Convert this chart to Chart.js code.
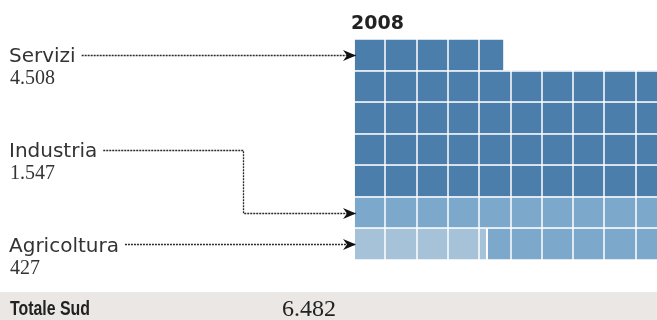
<!DOCTYPE html>
<html lang="it">
<head>
<meta charset="utf-8">
<title>Occupati Sud 2008</title>
<script src="https://cdn.jsdelivr.net/npm/chart.js@4/dist/chart.umd.min.js"></script>
<style>
  html, body { margin: 0; padding: 0; overflow: hidden; background: #fff; }
  #wrap { width: 657px; height: 320px; overflow: hidden; }
  canvas { display: block; }
</style>
</head>
<body>
<div id="wrap"><canvas id="waffle" width="680" height="320"></canvas></div>
<script>
// sectors, bottom-up fill order is the reverse of this list
const sectors = ["Servizi", "Industria", "Agricoltura"];
const sectorValues = [4508, 1547, 427];
const sectorColors = ["#4c7eab", "#7ba8cb", "#a5c2d9"];
const year = "2008";
const totalLabel = "Totale Sud";

// each square is 100, each row 1000
const rowUnits = 1000;
const rowNames = ["r1", "r2", "r3", "r4", "r5", "r6", "r7"];

function fmt(n) {
  return String(n).replace(/\B(?=(\d{3})+(?!\d))/g, ".");
}

// fill rows from the bottom, left to right, one sector after the other
function fillRows(values) {
  const out = values.map(() => rowNames.map(() => 0));
  let row = rowNames.length - 1;
  let used = 0;
  values.forEach((v, i) => {
    let rest = v;
    while (rest > 0 && row >= 0) {
      const take = Math.min(rest, rowUnits - used);
      out[i][row] += take;
      rest -= take;
      used += take;
      if (used >= rowUnits) {
        row--;
        used = 0;
      }
    }
  });
  return out;
}

const order = [2, 1, 0]; // Agricoltura, Industria, Servizi
const rows = fillRows(order.map((i) => sectorValues[i]));
const total = sectorValues.reduce((a, b) => a + b, 0);

const datasets = order.map((i, k) => ({
  label: sectors[i],
  data: rows[k],
  backgroundColor: sectorColors[i],
  borderColor: "rgba(255,255,255,0.85)",
  borderWidth: { top: 0, bottom: 0, left: 0, right: 2 },
  borderSkipped: false,
  categoryPercentage: 1,
  barPercentage: 1
}));

function arrow(ctx, x, y) {
  ctx.beginPath();
  ctx.moveTo(x, y);
  ctx.lineTo(x - 13, y - 5.5);
  ctx.lineTo(x - 9, y);
  ctx.lineTo(x - 13, y + 5.5);
  ctx.closePath();
  ctx.fill();
}

function leader(ctx, pts) {
  ctx.save();
  ctx.strokeStyle = "#2a2a2a";
  ctx.lineWidth = 1.3;
  ctx.setLineDash([2, 1]);
  ctx.beginPath();
  ctx.moveTo(pts[0][0], pts[0][1]);
  pts.slice(1).forEach((p) => ctx.lineTo(p[0], p[1]));
  ctx.stroke();
  ctx.restore();
  const end = pts[pts.length - 1];
  ctx.fillStyle = "#111";
  arrow(ctx, end[0], end[1]);
}

const labelsPlugin = {
  id: "labels",
  beforeDraw(chart) {
    const ctx = chart.ctx;
    ctx.save();
    ctx.fillStyle = "#ebe7e4";
    ctx.fillRect(0, 292, 680, 28);
    ctx.restore();
  },
  afterDraw(chart) {
    const ctx = chart.ctx;
    const y = chart.scales.y;
    const left = chart.chartArea.left + 2;
    const rowY = (i) => Math.round(y.getPixelForValue(i)) + 0.5;
    ctx.save();

    ctx.fillStyle = "#222";
    ctx.font = "bold 19px 'DejaVu Sans'";
    ctx.textBaseline = "alphabetic";
    ctx.fillText(year, 351, 29);

    const names = [
      { i: 0, y: 62 },
      { i: 1, y: 157 },
      { i: 2, y: 252 }
    ];
    names.forEach((n) => {
      ctx.fillStyle = "#333";
      ctx.font = "20px 'DejaVu Sans'";
      ctx.fillText(sectors[n.i], 9, n.y);
      ctx.font = "20px 'Liberation Serif'";
      ctx.fillText(fmt(sectorValues[n.i]), 10, n.y + 22);
    });

    // leaders to the first row of each sector
    ctx.font = "20px 'DejaVu Sans'";
    const w = sectors.map((s) => ctx.measureText(s).width);
    leader(ctx, [[9 + w[0] + 6, rowY(0)], [left, rowY(0)]]);
    leader(ctx, [[9 + w[1] + 6, 150.5], [243.5, 150.5], [243.5, rowY(5)], [left, rowY(5)]]);
    leader(ctx, [[9 + w[2] + 6, rowY(6)], [left, rowY(6)]]);

    ctx.fillStyle = "#222";
    ctx.font = "bold 20px 'Liberation Sans'";
    ctx.fillText(totalLabel, 10, 315, 80);
    ctx.font = "24px 'Liberation Serif'";
    ctx.fillText(fmt(total), 282, 316);
    ctx.restore();
  }
};

new Chart(document.getElementById("waffle"), {
  type: "bar",
  data: { labels: rowNames, datasets },
  plugins: [labelsPlugin],
  options: {
    indexAxis: "y",
    responsive: false,
    animation: false,
    layout: { padding: { left: 354, right: 13, top: 39, bottom: 60 } },
    plugins: { legend: { display: false }, tooltip: { enabled: false } },
    scales: {
      x: {
        stacked: true,
        min: 0,
        max: rowUnits,
        ticks: { display: false, stepSize: 100 },
        grid: { color: "rgba(255,255,255,0.75)", lineWidth: 2, z: 1, drawTicks: false },
        border: { display: false }
      },
      y: {
        stacked: true,
        ticks: { display: false },
        grid: { color: "rgba(255,255,255,0.75)", lineWidth: 2, z: 1, drawTicks: false },
        border: { display: false }
      }
    }
  }
});
</script>
</body>
</html>
